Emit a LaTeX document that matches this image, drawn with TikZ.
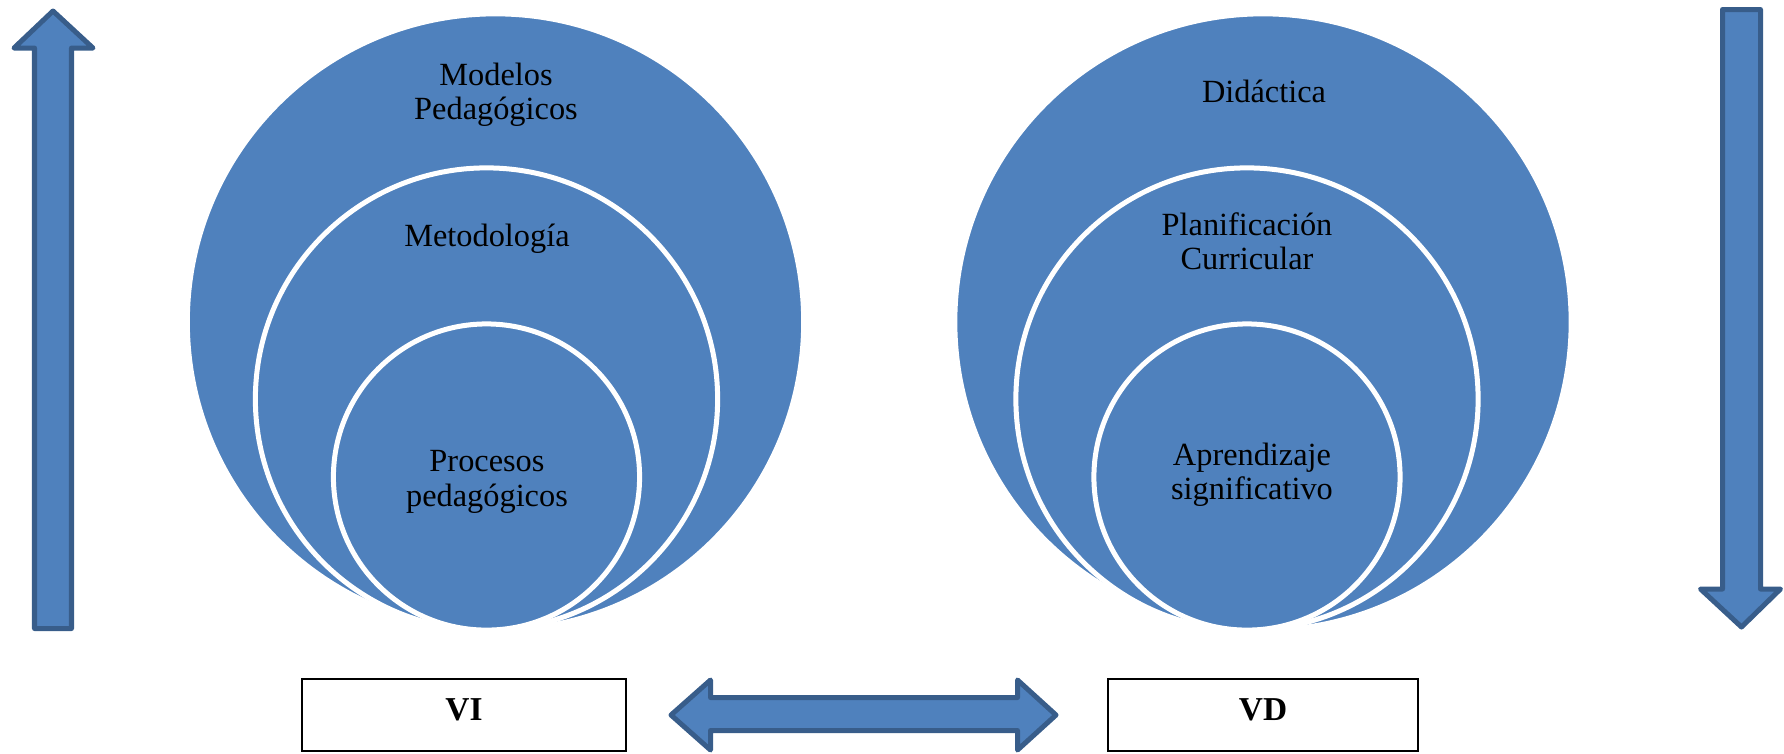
\documentclass[tikz,border=0pt]{standalone}
\usepackage{fontspec}
\setmainfont{Liberation Serif}
\definecolor{boxblue}{HTML}{4F81BD}
\definecolor{edgeblue}{HTML}{385D8A}
\begin{document}
\begin{tikzpicture}[x=0.01cm,y=-0.01cm,
  ring/.style={circle, fill=boxblue, draw=white, line width=0.05cm, inner sep=0pt},
  ringtext/.style={align=center, font=\fontsize{9.2pt}{9.8pt}\selectfont, inner sep=0pt},
  blockarrow/.style={fill=boxblue, draw=edgeblue, line width=0.05cm, line join=round},
  varbox/.style={draw=black, line width=0.6pt, fill=white, inner sep=0pt,
    minimum height=0.72cm, text depth=0.1cm,
    font=\fontsize{9.5pt}{11pt}\selectfont\bfseries}]
\useasboundingbox (0,0) rectangle (1784,753);

% left nested circles
\node[ring, minimum size=6.16cm] (outerL) at (495.5,322) {};
\node[ring, minimum size=4.62cm] (middleL) at (486.5,399) {};
\node[ring, minimum size=3.06cm] (innerL) at (486.5,477) {};

% right nested circles
\node[ring, minimum size=6.16cm] (outerR) at (1263,322) {};
\node[ring, minimum size=4.62cm] (middleR) at (1247,399) {};
\node[ring, minimum size=3.06cm] (innerR) at (1247,477) {};

% circle captions
\node[ringtext] (tModelos) at (496,95) {Modelos\\Pedagógicos};
\node[ringtext] (tMetod) at (487,239) {Metodología};
\node[ringtext] (tProc) at (487,482) {Procesos\\pedagógicos};
\node[ringtext] (tDid) at (1264,91) {Didáctica};
\node[ringtext] (tPlan) at (1247,241) {Planificación\\Curricular};
\node[ringtext] (tApr) at (1252,475) {Aprendizaje\\significativo};

% upward block arrow
\draw[blockarrow] (53,11) -- (93,48) -- (71.5,48) -- (71.5,628.5) -- (34.5,628.5)
  -- (34.5,48) -- (14,48) -- cycle;

% downward block arrow
\draw[blockarrow] (1722.5,9.5) -- (1760.5,9.5) -- (1760.5,589) -- (1780.5,589)
  -- (1741.5,627) -- (1700.5,589) -- (1722.5,589) -- cycle;

% two-headed block arrow between the variables
\draw[blockarrow] (671,715) -- (710.5,680) -- (710.5,697.5) -- (1017.5,697.5)
  -- (1017.5,680) -- (1056,715) -- (1017.5,750) -- (1017.5,730.5)
  -- (710.5,730.5) -- (710.5,750) -- cycle;

% variable boxes
\node[varbox, minimum width=3.24cm] (vi) at (464,715) {VI};
\node[varbox, minimum width=3.10cm] (vd) at (1263,715) {VD};
\end{tikzpicture}
\end{document}
